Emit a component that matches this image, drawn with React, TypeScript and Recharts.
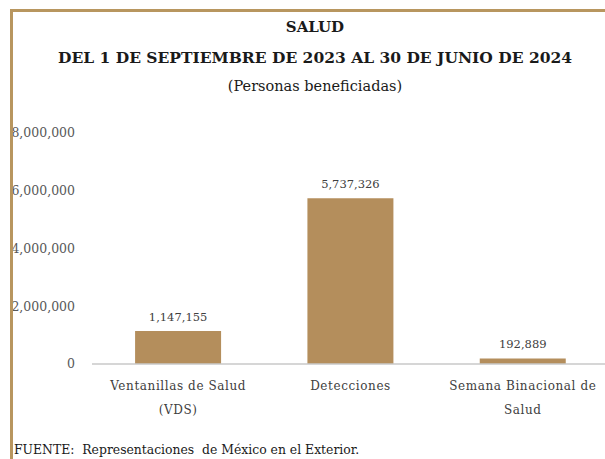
import React from "react";
import { BarChart, Bar, XAxis, YAxis, LabelList } from "recharts";

// Personas beneficiadas, 1 sep 2023 - 30 jun 2024
const categories = [
  "Ventanillas de Salud (VDS)",
  "Detecciones",
  "Semana Binacional de Salud",
];
const beneficiados = [1147155, 5737326, 192889];
const yTicks = [0, 2000000, 4000000, 6000000, 8000000];

const data = categories.map((name, i) => ({ name, value: beneficiados[i] }));

const FONT = "'DejaVu Serif', serif";
const GOLD = "#b48e5c";

const fmt = (v: number) => v.toLocaleString("en-US");

// break a label into lines of at most maxChars characters
const wrap = (label: string, maxChars = 20) => {
  const lines: string[] = [];
  let cur = "";
  label.split(" ").forEach((w) => {
    const next = cur ? cur + " " + w : w;
    if (next.length > maxChars && cur) {
      lines.push(cur);
      cur = w;
    } else {
      cur = next;
    }
  });
  if (cur) lines.push(cur);
  return lines;
};

const CategoryTick = (props: any) => {
  const { x, y, payload } = props;
  const lines = wrap(payload.value);
  return (
    <g transform={`translate(${x},${y})`}>
      {lines.map((line, i) => (
        <text
          key={i}
          x={0}
          y={18 + i * 24}
          textAnchor="middle"
          fill="#404040"
          fontSize={12}
          fontFamily={FONT}
          letterSpacing={0.6}
        >
          {line}
        </text>
      ))}
    </g>
  );
};

export default function App() {
  return (
    <div
      style={{
        position: "fixed",
        left: 0,
        top: 0,
        width: 605,
        height: 459,
        overflow: "hidden",
        background: "#fff",
        fontFamily: FONT,
      }}
    >
      <div style={{ position: "absolute", left: 0, top: 0 }}>
        <BarChart
          width={640}
          height={459}
          data={data}
          margin={{ top: 133, right: 31, bottom: 0, left: 0 }}
          barCategoryGap="25%"
        >
          <XAxis
            dataKey="name"
            axisLine={{ stroke: "#c8c8c8", strokeWidth: 1.5 }}
            tickLine={false}
            height={95}
            interval={0}
            tick={<CategoryTick />}
          />
          <YAxis
            width={92}
            domain={[0, 8000000]}
            ticks={yTicks}
            axisLine={false}
            tickLine={false}
            tickSize={0}
            tickMargin={17}
            tickFormatter={fmt}
            tick={{ fill: "#595959", fontSize: 12.5, fontFamily: FONT }}
          />
          <Bar dataKey="value" fill={GOLD} isAnimationActive={false}>
            <LabelList
              dataKey="value"
              position="top"
              offset={10}
              formatter={(v: any) => fmt(Number(v))}
              fill="#404040"
              fontSize={11.5}
              fontFamily={FONT}
            />
          </Bar>
        </BarChart>
      </div>

      {/* frame */}
      <div style={{ position: "absolute", left: 10, top: 9, width: 620, height: 3, background: "#b8965f" }} />
      <div style={{ position: "absolute", left: 10, top: 9, width: 3, height: 460, background: "#b8965f" }} />

      {/* titles */}
      <div
        style={{
          position: "absolute",
          left: 10,
          top: 17,
          width: 610,
          textAlign: "center",
          color: "#1a1a1a",
        }}
      >
        <div style={{ fontSize: 15, fontWeight: "bold", lineHeight: "20px" }}>SALUD</div>
        <div style={{ fontSize: 15.5, fontWeight: "bold", lineHeight: "20px", marginTop: 11 }}>
          DEL 1 DE SEPTIEMBRE DE 2023 AL 30 DE JUNIO DE 2024
        </div>
        <div style={{ fontSize: 14.5, lineHeight: "20px", marginTop: 8 }}>(Personas beneficiadas)</div>
      </div>

      <div
        style={{
          position: "absolute",
          left: 14,
          top: 442,
          fontSize: 12.4,
          color: "#1a1a1a",
          whiteSpace: "pre",
        }}
      >
        FUENTE:  Representaciones  de México en el Exterior.
      </div>
    </div>
  );
}
